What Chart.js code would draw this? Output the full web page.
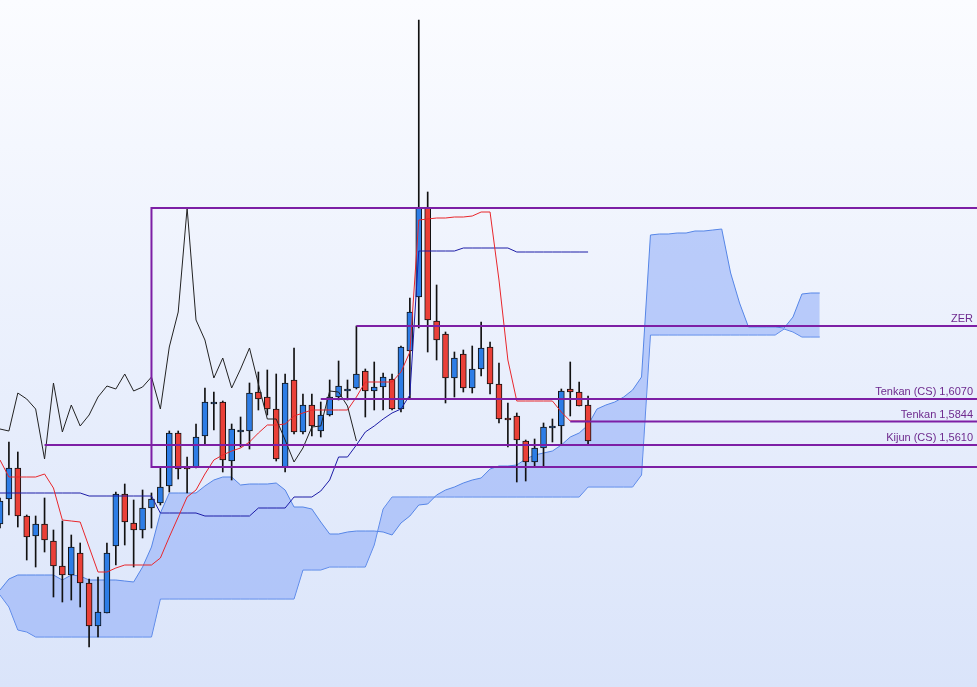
<!DOCTYPE html>
<html>
<head>
<meta charset="utf-8">
<script src="https://cdn.jsdelivr.net/npm/chart.js@4.4.1/dist/chart.umd.min.js"></script>
<style>
  html, body { margin: 0; padding: 0; }
  .wrap { width: 977px; height: 687px; background: linear-gradient(to bottom, #fbfcff 0%, #dae4fa 100%); }
</style>
</head>
<body>
<div class="wrap"><canvas id="ichimoku" width="977" height="687"></canvas></div>
<script>
// candles, one per period (index 0..66)
const OPEN = [1.482,1.507,1.538,1.490,1.470,1.482,1.465,1.440,1.431,1.453,
  1.423,1.380,1.393,1.460,1.512,1.483,1.476,1.498,1.503,1.520,
  1.573,1.539,1.539,1.570,1.602,1.604,1.545,1.574,1.575,1.614,
  1.609,1.597,1.539,1.626,1.574,1.601,1.575,1.591,1.609,1.615,
  1.618,1.635,1.615,1.619,1.627,1.597,1.655,1.709,1.798,1.685,
  1.672,1.628,1.652,1.618,1.637,1.659,1.622,1.588,1.590,1.565,
  1.544,1.558,1.578,1.580,1.617,1.614,1.601];
const HIGH = [1.508,1.564,1.554,1.491,1.490,1.508,1.476,1.485,1.471,1.463,
  1.427,1.429,1.463,1.514,1.522,1.506,1.516,1.513,1.538,1.575,
  1.575,1.549,1.582,1.618,1.614,1.605,1.582,1.589,1.623,1.634,
  1.636,1.632,1.632,1.658,1.612,1.612,1.604,1.626,1.645,1.626,
  1.680,1.637,1.644,1.633,1.632,1.660,1.708,1.986,1.814,1.721,
  1.674,1.654,1.656,1.660,1.684,1.664,1.643,1.603,1.593,1.566,
  1.567,1.583,1.587,1.617,1.644,1.624,1.610];
const LOW = [1.478,1.491,1.479,1.446,1.439,1.454,1.409,1.404,1.406,1.399,
  1.359,1.369,1.393,1.441,1.461,1.439,1.468,1.478,1.501,1.514,
  1.527,1.513,1.538,1.561,1.576,1.534,1.526,1.559,1.557,1.596,
  1.591,1.545,1.534,1.572,1.572,1.570,1.569,1.590,1.606,1.606,
  1.617,1.589,1.596,1.596,1.596,1.594,1.608,1.678,1.654,1.646,
  1.603,1.609,1.614,1.613,1.630,1.612,1.583,1.559,1.524,1.525,
  1.540,1.540,1.564,1.561,1.590,1.600,1.561];
const CLOSE = [1.505,1.538,1.490,1.469,1.482,1.466,1.440,1.431,1.459,1.423,
  1.380,1.394,1.453,1.512,1.484,1.476,1.498,1.507,1.519,1.573,
  1.537,1.537,1.569,1.604,1.604,1.546,1.577,1.576,1.613,1.607,
  1.597,1.547,1.623,1.574,1.601,1.580,1.591,1.609,1.620,1.617,
  1.632,1.615,1.619,1.629,1.597,1.659,1.694,1.798,1.686,1.666,
  1.628,1.648,1.618,1.637,1.658,1.622,1.587,1.586,1.566,1.544,
  1.558,1.579,1.580,1.615,1.614,1.600,1.565];

// ichimoku lines
const TENKAN = [1.546,1.529,1.529,1.529,1.529,1.532,1.518,1.486,1.485,1.484,
  1.459,1.434,1.434,1.438,1.441,1.441,1.441,1.441,1.448,1.469,
  1.489,1.509,1.516,1.532,1.546,1.551,1.555,1.558,1.564,1.573,
  1.581,1.581,1.582,1.590,1.593,1.596,1.596,1.596,1.596,1.596,
  1.609,1.624,1.624,1.624,1.624,1.634,1.654,1.786,1.787,1.788,
  1.788,1.789,1.789,1.790,1.794,1.794,1.726,1.646,1.605,1.605,
  1.605,1.605,1.605,1.594,1.585,1.585,1.585];
const KIJUN = [1.513,1.513,1.513,1.513,1.513,1.513,1.513,1.513,1.513,1.513,
  1.510,1.510,1.510,1.510,1.510,1.510,1.510,1.510,1.493,1.493,
  1.493,1.493,1.493,1.490,1.490,1.490,1.490,1.490,1.490,1.498,
  1.498,1.498,1.498,1.509,1.509,1.509,1.515,1.526,1.549,1.549,
  1.561,1.574,1.580,1.587,1.593,1.597,1.611,1.755,1.755,1.755,
  1.755,1.755,1.758,1.758,1.758,1.758,1.758,1.758,1.754,1.754,
  1.754,1.754,1.754,1.754,1.754,1.754,1.754];
// chikou span, already plotted 26 periods back (index 0..40)
const CHIKOU = [1.577,1.575,1.613,1.607,1.597,1.547,1.623,1.574,1.601,1.580,
  1.591,1.609,1.620,1.617,1.632,1.615,1.619,1.629,1.597,1.659,
  1.694,1.798,1.686,1.666,1.628,1.648,1.618,1.637,1.658,1.622,
  1.587,1.587,1.566,1.544,1.558,1.579,1.580,1.615,1.614,1.600,
  1.565];
// senkou spans, already plotted 26 periods ahead (index 0..92)
const SPAN_A = [1.416,1.427,1.431,1.431,1.431,1.431,1.431,1.426,1.431,1.430,
  1.426,1.426,1.426,1.426,1.425,1.424,1.439,1.459,1.493,1.513,
  1.513,1.513,1.513,1.520,1.526,1.529,1.529,1.521,1.522,1.522,
  1.522,1.523,1.516,1.499,1.499,1.497,1.484,1.472,1.472,1.474,
  1.475,1.475,1.475,1.474,1.471,1.483,1.490,1.501,1.502,1.511,
  1.516,1.519,1.523,1.526,1.528,1.537,1.540,1.540,1.541,1.547,
  1.551,1.553,1.555,1.561,1.569,1.573,1.581,1.597,1.601,1.604,
  1.609,1.616,1.629,1.771,1.772,1.772,1.773,1.773,1.775,1.775,
  1.776,1.777,1.733,1.703,1.679,1.679,1.679,1.679,1.678,1.689,
  1.712,1.713,1.713];
const SPAN_B = [1.411,1.399,1.376,1.374,1.369,1.369,1.369,1.369,1.369,1.369,
  1.369,1.369,1.369,1.369,1.369,1.369,1.369,1.369,1.407,1.407,
  1.407,1.407,1.407,1.407,1.407,1.407,1.407,1.407,1.407,1.407,
  1.407,1.407,1.407,1.407,1.436,1.436,1.436,1.439,1.439,1.439,
  1.439,1.439,1.461,1.497,1.509,1.509,1.509,1.509,1.509,1.509,
  1.509,1.509,1.509,1.509,1.509,1.509,1.509,1.509,1.509,1.509,
  1.509,1.509,1.509,1.509,1.509,1.509,1.519,1.519,1.519,1.519,
  1.519,1.519,1.531,1.671,1.671,1.671,1.671,1.671,1.671,1.671,
  1.671,1.671,1.671,1.671,1.671,1.671,1.671,1.671,1.677,1.674,
  1.669,1.669,1.669];

// horizontal levels drawn from a start period to the right edge
const LEVEL_NAMES = ['ZER', 'Tenkan (CS) 1,6070', 'Tenkan 1,5844', 'Kijun (CS) 1,5610'];
const LEVEL_PRICES = [1.6800, 1.6070, 1.5844, 1.5610];
const LEVEL_FROM = [40, 36, 64, 5];
const BOX_FROM = 17;
const BOX_TOP = 1.798;
const BOX_BOTTOM = 1.539;

const X_MAX = 109.65;
const BULL = '#2d7de6';
const BEAR = '#ea4038';
const LEVEL_COLOR = '#7d1fa5';

const series = arr => arr.map((v, i) => ({ x: i, y: v }));

const lineSet = (data, color, order, extra) => Object.assign({
    type: 'line',
    data: data,
    borderColor: color,
    borderWidth: 1,
    pointRadius: 0,
    tension: 0,
    fill: false,
    order: order
}, extra || {});

const levelSets = LEVEL_PRICES.map((p, k) => lineSet(
    [{ x: LEVEL_FROM[k], y: p }, { x: X_MAX + 2, y: p }], LEVEL_COLOR, 0, { borderWidth: 2 }));

const boxSet = lineSet([
    { x: X_MAX + 2, y: BOX_TOP }, { x: BOX_FROM, y: BOX_TOP },
    { x: BOX_FROM, y: BOX_BOTTOM }, { x: X_MAX + 2, y: BOX_BOTTOM }
], LEVEL_COLOR, 0, { borderWidth: 2 });

const levelLabels = {
    id: 'levelLabels',
    afterDatasetsDraw(chart) {
        const { ctx, chartArea, scales } = chart;
        ctx.save();
        ctx.font = '11px "Liberation Sans", Arial, sans-serif';
        ctx.fillStyle = '#6e2a8e';
        ctx.textAlign = 'right';
        ctx.textBaseline = 'alphabetic';
        LEVEL_NAMES.forEach((name, k) => {
            ctx.fillText(name, chartArea.right - 4, scales.y.getPixelForValue(LEVEL_PRICES[k]) - 4);
        });
        ctx.restore();
    }
};

new Chart(document.getElementById('ichimoku'), {
    type: 'line',
    data: {
        datasets: [
            ...levelSets,
            boxSet,
            lineSet(series(CHIKOU), '#222222', 2),
            lineSet(series(TENKAN), '#e8262b', 2),
            lineSet(series(KIJUN), '#1c1ca6', 2),
            {
                type: 'bar',
                data: OPEN.map((o, i) => ({ x: i, y: [o, CLOSE[i]] })),
                backgroundColor: OPEN.map((o, i) => CLOSE[i] >= o ? BULL : BEAR),
                borderColor: '#111111',
                borderWidth: 1,
                borderSkipped: false,
                barThickness: 6,
                grouped: false,
                order: 5
            },
            {
                type: 'bar',
                data: LOW.map((l, i) => ({ x: i, y: [l, HIGH[i]] })),
                backgroundColor: '#111111',
                borderWidth: 0,
                barThickness: 1,
                grouped: false,
                order: 6
            },
            lineSet(series(SPAN_A), '#5585e6', 10, { fill: '+1', backgroundColor: 'rgba(131,164,247,0.5)' }),
            lineSet(series(SPAN_B), '#5585e6', 10)
        ]
    },
    options: {
        responsive: false,
        animation: false,
        layout: { padding: 0 },
        plugins: { legend: { display: false }, tooltip: { enabled: false } },
        scales: {
            x: { type: 'linear', min: 0, max: X_MAX, offset: false, display: false },
            y: { type: 'linear', min: 1.319, max: 2.006, display: false }
        }
    },
    plugins: [levelLabels]
});
</script>
</body>
</html>
